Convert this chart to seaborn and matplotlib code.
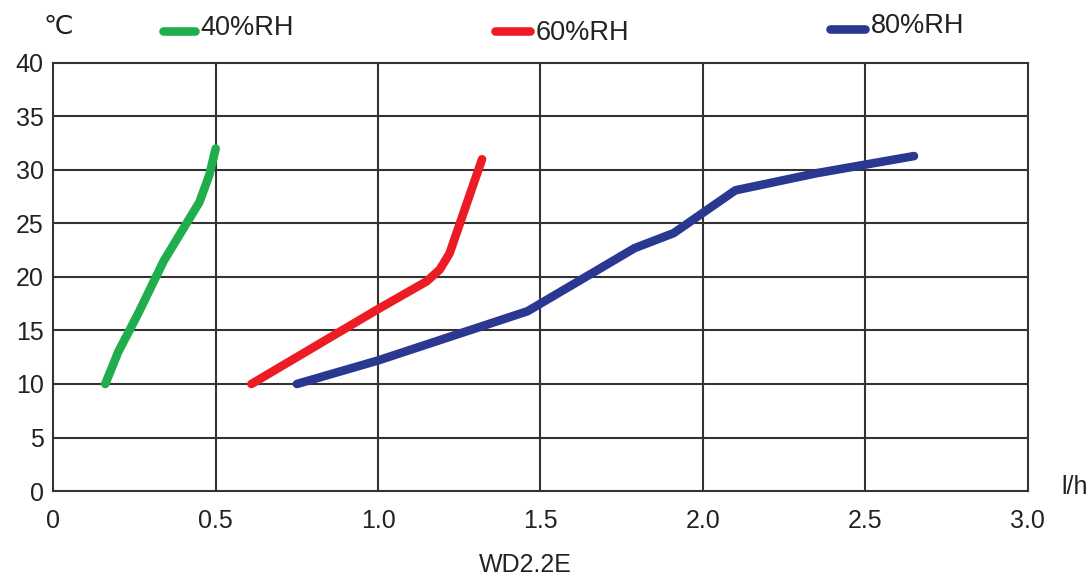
import matplotlib
matplotlib.use("Agg")
import matplotlib.pyplot as plt
from matplotlib.lines import Line2D
import numpy as np
import pandas as pd
import seaborn as sns

# Dehumidifier capacity (l/h) versus temperature (°C) at three humidity levels
rh40_flow = [0.16, 0.20, 0.26, 0.34, 0.40, 0.45, 0.48, 0.50]
rh40_temp = [10, 13, 16.5, 21.5, 24.5, 27, 29.5, 32]

rh60_flow = [0.61, 1.00, 1.15, 1.19, 1.22, 1.32]
rh60_temp = [10, 17, 19.6, 20.7, 22.2, 31]

rh80_flow = [0.75, 1.00, 1.46, 1.79, 1.91, 2.10, 2.35, 2.65]
rh80_temp = [10, 12.2, 16.8, 22.7, 24.1, 28.1, 29.7, 31.3]

series_names = ["40%RH", "60%RH", "80%RH"]
series_colors = ["#1fae4b", "#ec1c24", "#2b3892"]

x_ticks = [0, 0.5, 1.0, 1.5, 2.0, 2.5, 3.0]
x_tick_labels = ["0", "0.5", "1.0", "1.5", "2.0", "2.5", "3.0"]
y_ticks = [0, 5, 10, 15, 20, 25, 30, 35, 40]

sns.set_style("white")
plt.rcParams["font.family"] = ["Liberation Sans", "DejaVu Sans"]

df = pd.concat([
    pd.DataFrame({"flow": rh40_flow, "temp": rh40_temp, "rh": series_names[0]}),
    pd.DataFrame({"flow": rh60_flow, "temp": rh60_temp, "rh": series_names[1]}),
    pd.DataFrame({"flow": rh80_flow, "temp": rh80_temp, "rh": series_names[2]}),
], ignore_index=True)

fig = plt.figure(figsize=(10.92, 5.81), dpi=100)
ax = fig.add_axes([0.0488, 0.1549, 0.8923, 0.7367])

grid_color = "#333333"
for xv in x_ticks[1:-1]:
    ax.axvline(xv, color=grid_color, lw=1.5, zorder=1)
for yv in y_ticks[1:-1]:
    ax.axhline(yv, color=grid_color, lw=1.5, zorder=1)

sns.lineplot(data=df, x="flow", y="temp", hue="rh", hue_order=series_names,
             palette=series_colors, sort=False, estimator=None, lw=6.2,
             solid_capstyle="round", solid_joinstyle="round",
             legend=False, ax=ax, zorder=3)

ax.set_xlim(0, 3.0)
ax.set_ylim(0, 40)
ax.set_xticks(x_ticks)
ax.set_xticklabels(x_tick_labels)
ax.set_yticks(y_ticks)
ax.tick_params(axis="both", length=0, labelsize=18, colors="#222222")
ax.tick_params(axis="x", pad=13)
ax.tick_params(axis="y", pad=7)
ax.set_xlabel("")
ax.set_ylabel("")
for s in ax.spines.values():
    s.set_visible(True)
    s.set_color(grid_color)
    s.set_linewidth(1.5)

# Axis annotations
fig.text(0.984, 1 - 487 / 581, "l/h", fontsize=18, color="#222222",
         ha="center", va="center")
fig.text(0.481, 1 - 565 / 581, "WD2.2E", fontsize=18, color="#222222",
         ha="center", va="center")
fig.text(0.053, 1 - 27 / 581, "℃", fontsize=19, color="#222222",
         ha="center", va="center", family=["DejaVu Sans"])

# Legend entries placed across the top
legend_items = [
    (163, 195, 31, 200, 28),
    (495, 530, 31, 536, 33),
    (830, 865, 29, 871, 26),
]
for (x0, x1, ly, tx, ty), name, col in zip(legend_items, series_names, series_colors):
    fig.add_artist(Line2D([x0 / 1092, x1 / 1092], [1 - ly / 581, 1 - ly / 581],
                          color=col, lw=6.2, solid_capstyle="round",
                          transform=fig.transFigure))
    fig.text(tx / 1092, 1 - ty / 581, name, fontsize=19.5, color="#222222",
             ha="left", va="center")

fig.savefig("out.png", dpi=100)
